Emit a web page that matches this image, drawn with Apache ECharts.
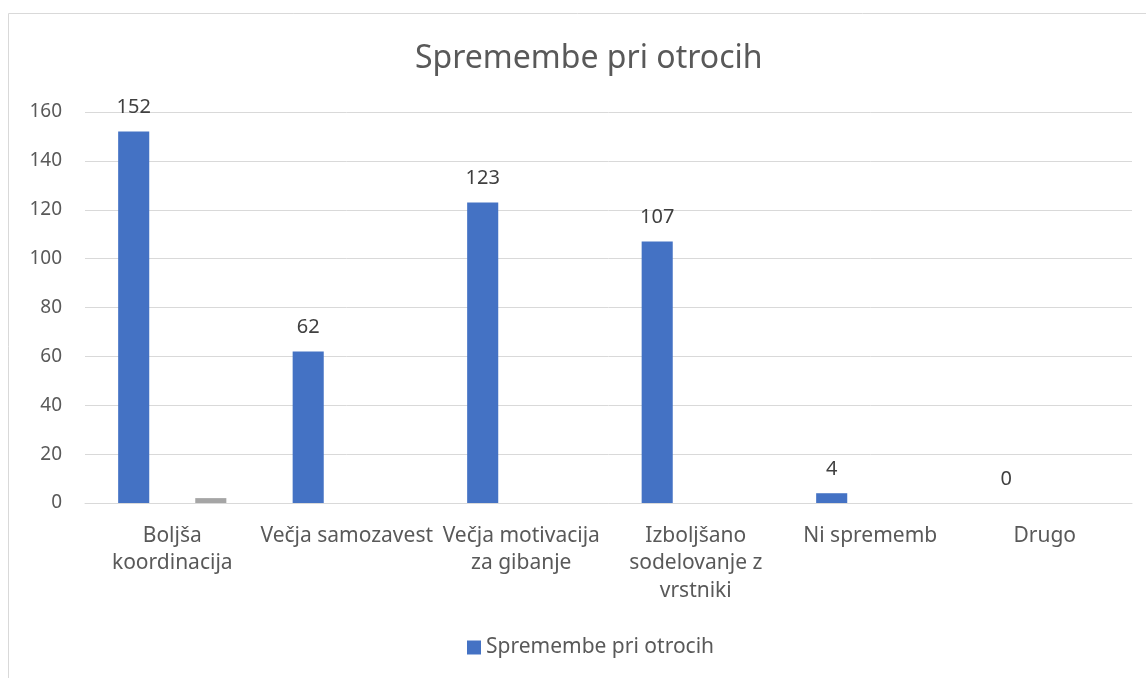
<!DOCTYPE html>
<html>
<head>
<meta charset="utf-8">
<script src="https://cdn.jsdelivr.net/npm/echarts@6/dist/echarts.min.js"></script>
<style>
  html, body { margin: 0; padding: 0; background: #fff; }
  #chart { width: 1146px; height: 678px; }
</style>
</head>
<body>
<div id="chart"></div>
<script>
var categories = ['Boljša\nkoordinacija', 'Večja samozavest', 'Večja motivacija\nza gibanje', 'Izboljšano\nsodelovanje z\nvrstniki', 'Ni sprememb', 'Drugo'];
var mainValues = [152, 62, 123, 107, 4, 0];
var middleValues = [0, 0, 0, 0, 0, 0];
var greyValues = [2, 0, 0, 0, 0, 0];
var yTicks = { min: 0, max: 160, interval: 20 };

var myChart = echarts.init(document.getElementById('chart'));
var font = 'Noto Sans';

myChart.setOption({
  animation: false,
  graphic: [{
    type: 'rect',
    shape: { x: 8.5, y: 13.5, width: 1160, height: 700 },
    style: { fill: 'none', stroke: '#d9d9d9', lineWidth: 1 }
  }],
  title: {
    text: 'Spremembe pri otrocih',
    left: 410,
    top: 38,
    textStyle: { fontFamily: font, fontSize: 32, fontWeight: 'normal', color: '#595959' }
  },
  legend: {
    data: ['Spremembe pri otrocih'],
    bottom: 15,
    left: 462,
    itemWidth: 14,
    itemHeight: 14,
    itemGap: 6,
    icon: 'rect',
    textStyle: { fontFamily: font, fontSize: 21, color: '#595959' }
  },
  grid: { left: 85, right: 14, top: 112, bottom: 175 },
  xAxis: {
    type: 'category',
    data: categories,
    axisLine: { lineStyle: { color: '#d9d9d9' } },
    axisTick: { show: false },
    axisLabel: { fontFamily: font, fontSize: 21, color: '#595959', lineHeight: 27.5, margin: 19, interval: 0 }
  },
  yAxis: {
    type: 'value',
    min: yTicks.min,
    max: yTicks.max,
    interval: yTicks.interval,
    axisLine: { show: false },
    axisTick: { show: false },
    splitLine: { lineStyle: { color: '#d9d9d9' } },
    axisLabel: { fontFamily: font, fontSize: 19, color: '#595959', margin: 23 }
  },
  series: [{
    name: 'Spremembe pri otrocih',
    type: 'bar',
    data: mainValues,
    barGap: '24%',
    barCategoryGap: '38%',
    itemStyle: { color: '#4472c4' },
    label: { show: true, position: 'top', distance: 14, fontFamily: font, fontSize: 20, color: '#404040' }
  }, {
    name: 'Serija 2',
    type: 'bar',
    data: middleValues,
    itemStyle: { color: '#ed7d31' }
  }, {
    name: 'Serija 3',
    type: 'bar',
    data: greyValues,
    itemStyle: { color: '#a5a5a5' }
  }]
});
</script>
</body>
</html>
